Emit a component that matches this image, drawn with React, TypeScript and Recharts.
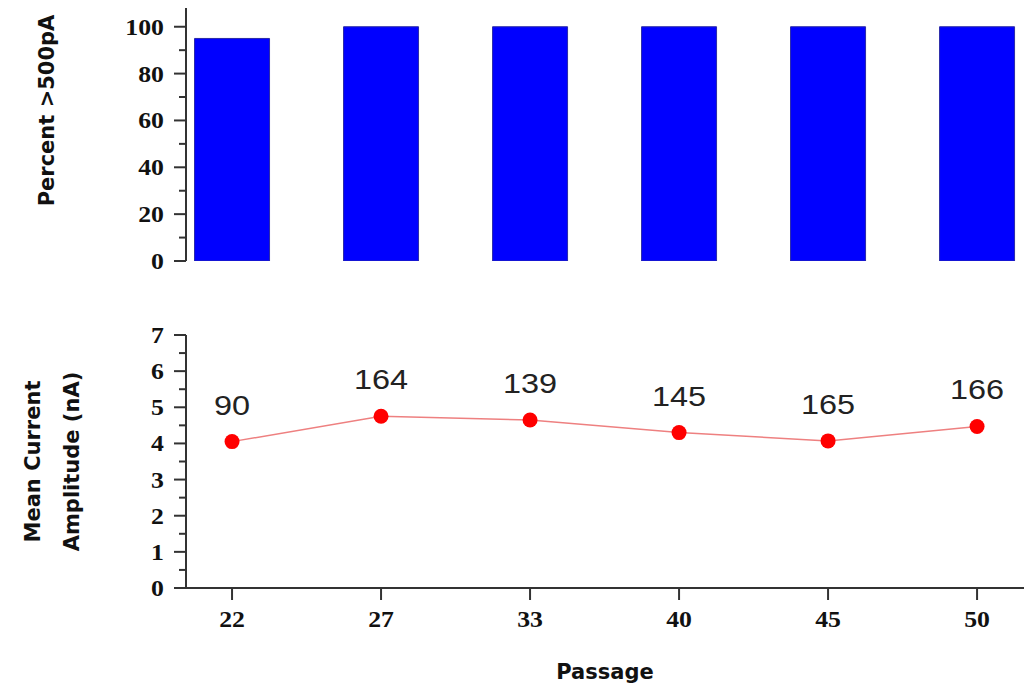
import React from 'react';
import { BarChart, Bar, LineChart, Line, XAxis, YAxis, LabelList } from 'recharts';

const passages = ['22', '27', '33', '40', '45', '50'];
const percentOver500 = [95, 100, 100, 100, 100, 100];
const meanCurrent = [4.05, 4.75, 4.65, 4.3, 4.07, 4.47];
const cellCounts = [90, 164, 139, 145, 165, 166];

const percentTicks = [0, 10, 20, 30, 40, 50, 60, 70, 80, 90, 100];
const currentTicks = [0, 0.5, 1, 1.5, 2, 2.5, 3, 3.5, 4, 4.5, 5, 5.5, 6, 6.5, 7];
const passageTicks = [0, 1, 2, 3, 4, 5];

const rows = passages.map((p, i) => ({
  idx: i,
  passage: p,
  percent: percentOver500[i],
  current: meanCurrent[i],
  n: cellCounts[i],
}));

const X_DOMAIN = [-0.309, 5.315];
const TICK_SIZE = 12;
const TICK_MARGIN = 10;
const AXIS_COLOR = '#333';
const SERIF = '"Liberation Serif", "Times New Roman", serif';
const SANS = '"DejaVu Sans", Verdana, sans-serif';

// the source figure is a bit stretched sideways, so widen the text a little
const stretch = (x: number, k: number) => `translate(${x},0) scale(${k},1) translate(${-x},0)`;

const makeYTick = (isMajor: (v: number) => boolean) => (props: any) => {
  const { x, y, payload } = props;
  const axisX = x + TICK_MARGIN + TICK_SIZE;
  const major = isMajor(payload.value);
  return (
    <g>
      <line x1={axisX - (major ? TICK_SIZE : 7)} x2={axisX} y1={y} y2={y} stroke={AXIS_COLOR} strokeWidth={2} />
      {major && (
        <text
          x={x}
          y={y}
          dy="0.35em"
          textAnchor="end"
          transform={stretch(x, 1.12)}
          fontFamily={SERIF}
          fontWeight="bold"
          fontSize={23}
          fill="#111"
        >
          {payload.value}
        </text>
      )}
    </g>
  );
};

const PercentTick = makeYTick((v) => v % 20 === 0);
const CurrentTick = makeYTick((v) => Number.isInteger(v));

const PassageTick = (props: any) => {
  const { x, y, payload } = props;
  const axisY = y - TICK_MARGIN - TICK_SIZE;
  return (
    <g>
      <line x1={x} x2={x} y1={axisY} y2={axisY + TICK_SIZE} stroke={AXIS_COLOR} strokeWidth={2} />
      <text
        x={x}
        y={y}
        dy="0.75em"
        textAnchor="middle"
        transform={stretch(x, 1.12)}
        fontFamily={SERIF}
        fontWeight="bold"
        fontSize={23}
        fill="#111"
      >
        {passages[payload.value]}
      </text>
    </g>
  );
};

const RotLabel = ({ lines, dy }: { lines: { text: string; x: number }[]; dy: number }) => (props: any) => {
  const vb = props.viewBox || {};
  const cy = vb.y + vb.height / 2 + dy;
  return (
    <g>
      {lines.map((l) => (
        <text
          key={l.text}
          x={l.x}
          y={cy}
          transform={`rotate(-90, ${l.x}, ${cy})`}
          textAnchor="middle"
          dominantBaseline="central"
          fontFamily={SANS}
          fontWeight="bold"
          fontSize={21}
          fill="#111"
        >
          {l.text}
        </text>
      ))}
    </g>
  );
};

const PointLabel = (props: any) => {
  const { x, y, value } = props;
  return (
    <text
      x={x}
      y={y - 27}
      textAnchor="middle"
      transform={stretch(x, 1.2)}
      fontFamily='"Liberation Sans", Arial, sans-serif'
      fontSize={27}
      fill="#222"
    >
      {value}
    </text>
  );
};

export default function App() {
  return (
    <div style={{ position: 'absolute', left: 0, top: 0, width: 1024, height: 687, overflow: 'hidden', background: '#fff' }}>
      <div style={{ position: 'absolute', left: 0, top: 0 }}>
        <BarChart width={1024} height={275} data={rows} margin={{ top: 8, right: 0, bottom: 14, left: 0 }}>
          <XAxis type="number" dataKey="idx" domain={X_DOMAIN} allowDataOverflow hide />
          <YAxis
            type="number"
            domain={[0, 108]}
            allowDataOverflow
            ticks={percentTicks}
            interval={0}
            width={186}
            tickSize={TICK_SIZE}
            tickMargin={TICK_MARGIN}
            tickLine={false}
            tick={<PercentTick />}
            axisLine={{ stroke: AXIS_COLOR, strokeWidth: 2 }}
            label={{ content: RotLabel({ lines: [{ text: 'Percent >500pA', x: 47 }], dy: -24 }) }}
          />
          <Bar dataKey="percent" barSize={75} fill="#0000ff" stroke="#2a2aa8" strokeWidth={1} isAnimationActive={false} />
        </BarChart>
      </div>
      <div style={{ position: 'absolute', left: 0, top: 290 }}>
        <LineChart width={1024} height={397} data={rows} margin={{ top: 45, right: 0, bottom: 0, left: 0 }}>
          <XAxis
            type="number"
            dataKey="idx"
            domain={X_DOMAIN}
            allowDataOverflow
            ticks={passageTicks}
            interval={0}
            height={99}
            tickSize={TICK_SIZE}
            tickMargin={TICK_MARGIN}
            tickLine={false}
            tick={<PassageTick />}
            axisLine={{ stroke: AXIS_COLOR, strokeWidth: 2 }}
            label={{ value: 'Passage', position: 'insideBottom', offset: 8, fontFamily: SANS, fontWeight: 'bold', fontSize: 21, fill: '#111' }}
          />
          <YAxis
            type="number"
            domain={[0, 7]}
            ticks={currentTicks}
            interval={0}
            width={186}
            tickSize={TICK_SIZE}
            tickMargin={TICK_MARGIN}
            tickLine={false}
            tick={<CurrentTick />}
            axisLine={{ stroke: AXIS_COLOR, strokeWidth: 2 }}
            label={{
              content: RotLabel({
                lines: [
                  { text: 'Mean Current', x: 33 },
                  { text: 'Amplitude (nA)', x: 72 },
                ],
                dy: 0,
              }),
            }}
          />
          <Line
            dataKey="current"
            stroke="#ee8080"
            strokeWidth={1.5}
            dot={{ r: 7.5, fill: '#ff0000', stroke: 'none' }}
            isAnimationActive={false}
          >
            <LabelList dataKey="n" content={<PointLabel />} />
          </Line>
        </LineChart>
      </div>
    </div>
  );
}
